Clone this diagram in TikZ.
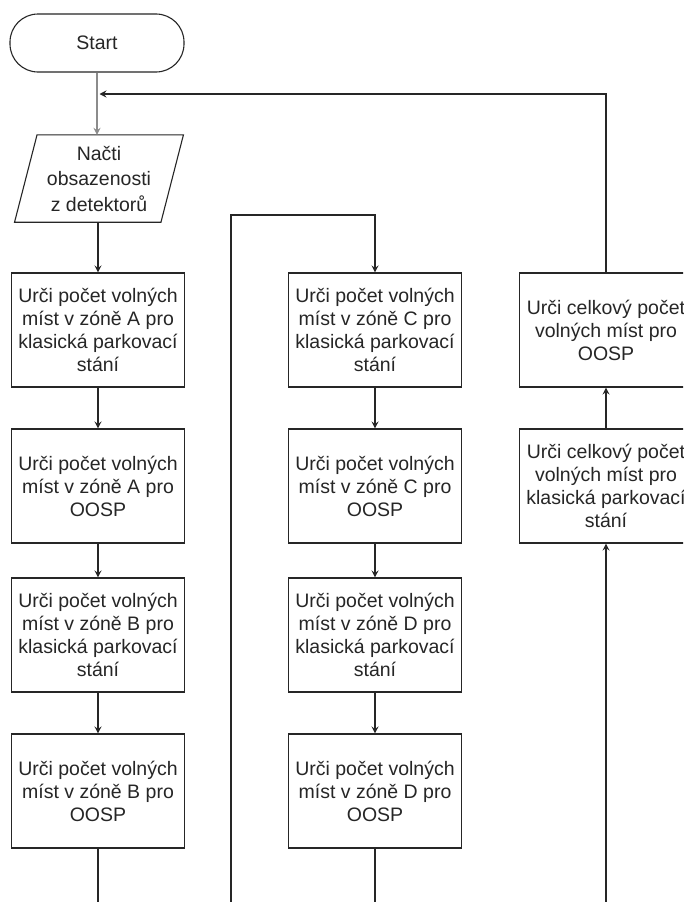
\documentclass[tikz,border=0pt]{standalone}
\usepackage{fontspec}
\setmainfont{Liberation Sans}
\usetikzlibrary{arrows.meta}
\begin{document}
\begin{tikzpicture}[x=1pt,y=-1pt,
  txt/.style={font=\fontsize{19.5}{23}\selectfont, text=black!85, align=center, inner sep=0pt},
  stepbox/.style={txt, draw=black!85, line width=1.1pt, minimum width=173pt, minimum height=114pt},
  flow/.style={draw=black!85, line width=1.1pt, -{Stealth[length=7pt,width=7pt,inset=2.5pt]}},
  link/.style={draw=black!85, line width=1.1pt}]
\useasboundingbox (0,0) rectangle (683,902);
\fill[white] (0,0) rectangle (683,902);
\clip (0,0) rectangle (683,902);

% start terminal and input
\node[txt, draw=black!85, line width=1.1pt, rounded corners=28pt,
      minimum width=174pt, minimum height=58pt] (start) at (97,43) {Start};
\node[txt, font=\fontsize{19.5}{25.5}\selectfont,
      minimum width=146pt, minimum height=87pt] (read) at (99,178.5)
      {Načti\\obsazenosti\\z detektorů};
\draw[link] ([xshift=11.25pt]read.north west) -- ([xshift=11.25pt]read.north east)
  -- ([xshift=-11.25pt]read.south east) -- ([xshift=-11.25pt]read.south west) -- cycle;

% column A/B
\node[stepbox] (a1) at (98,330) {Urči počet volných\\míst v zóně A pro\\klasická parkovací\\stání};
\node[stepbox] (a2) at (98,486) {Urči počet volných\\míst v zóně A pro\\OOSP};
\node[stepbox] (a3) at (98,635) {Urči počet volných\\míst v zóně B pro\\klasická parkovací\\stání};
\node[stepbox] (a4) at (98,791) {Urči počet volných\\míst v zóně B pro\\OOSP};

% column C/D
\node[stepbox] (c1) at (375,330) {Urči počet volných\\míst v zóně C pro\\klasická parkovací\\stání};
\node[stepbox] (c2) at (375,486) {Urči počet volných\\míst v zóně C pro\\OOSP};
\node[stepbox] (d1) at (375,635) {Urči počet volných\\míst v zóně D pro\\klasická parkovací\\stání};
\node[stepbox] (d2) at (375,791) {Urči počet volných\\míst v zóně D pro\\OOSP};

% totals
\node[stepbox] (r1) at (606,330) {Urči celkový počet\\volných míst pro\\OOSP};
\node[stepbox] (r2) at (606,486) {Urči celkový počet\\volných míst pro\\klasická parkovací\\stání};

% free ends of the connectors
\coordinate (join) at (99.5,94);
\coordinate (a4end) at (98,905);
\coordinate (loopbot) at (231,905);
\coordinate (looptop) at (231,215);
\coordinate (d2end) at (375,905);
\coordinate (rbot) at (606,905);

% connectors
\draw[flow, draw=black!45] (start.south) -- (start.south |- read.north);
\draw[flow] (a1.north |- read.south) -- (a1.north);
\draw[flow] (a1) -- (a2);
\draw[flow] (a2) -- (a3);
\draw[flow] (a3) -- (a4);
\draw[link] (a4.south) -- (a4end);
\draw[flow] (loopbot) -- (looptop) -| (c1.north);
\draw[flow] (c1) -- (c2);
\draw[flow] (c2) -- (d1);
\draw[flow] (d1) -- (d2);
\draw[link] (d2.south) -- (d2end);
\draw[flow] (rbot) -- (r2.south);
\draw[flow] (r2) -- (r1);
\draw[flow] (r1.north) |- (join);
\end{tikzpicture}
\end{document}
